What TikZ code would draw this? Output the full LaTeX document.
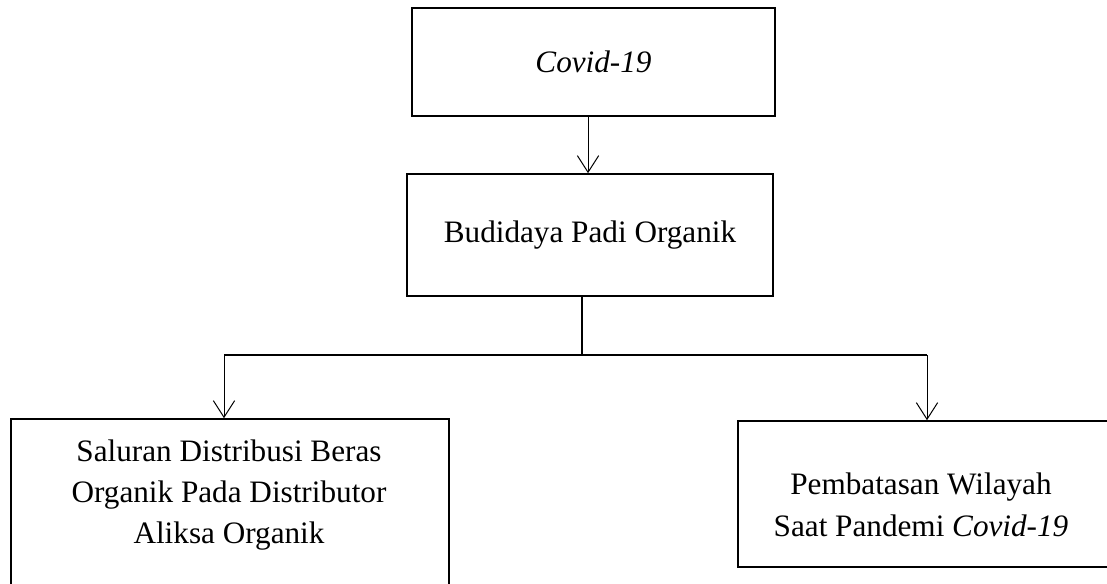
\documentclass[tikz,border=0pt]{standalone}
\usepackage{fontspec}
\setmainfont{Liberation Serif}
\usetikzlibrary{arrows.meta}
\begin{document}
\begin{tikzpicture}[x=0.75pt,y=-0.75pt,
  box/.style={draw,line width=1.2pt,inner sep=0pt,align=center,font=\fontsize{23.4}{31.1}\selectfont},
  lbl/.style={inner sep=0pt,align=center,font=\fontsize{23.4}{31.1}\selectfont},
  conn/.style={line width=1pt},
  arr/.style={line width=0.75pt,-{Straight Barb[length=12.5pt,width=16pt,line width=0.75pt]}}]
\useasboundingbox (0,0) rectangle (1107,583);
\clip (0,0) rectangle (1107,583);
% boxes
\node[box,minimum width=272.25pt,minimum height=81pt] (top) at (593.5,62) {\textit{Covid-19}};
\node[box,minimum width=274.5pt,minimum height=91.5pt] (mid) at (590,235) {Budidaya Padi Organik};
\node[box,minimum width=328.5pt,minimum height=135.75pt] (left) at (230,509.5) {};
\node[box,minimum width=279pt,minimum height=109.5pt] (right) at (924,494) {};
% texts
\node[lbl] (lefttxt) at (229,495) {Saluran Distribusi Beras\\Organik Pada Distributor\\Aliksa Organik};
\node[lbl] (righttxt) at (921,505) {Pembatasan Wilayah\\Saat Pandemi \textit{Covid-19}};
% connectors
\draw[arr] ([xshift=-4.1pt]top.south) -- ([xshift=-4.1pt]top.south |- mid.north);
\coordinate (j) at (582,355);
\coordinate (jl) at (224,355);
\coordinate (jr) at (927,355);
\draw[conn] ([xshift=-6pt]mid.south) -- (j);
\draw[conn] (jl) -- (jr);
\draw[arr] (jl) -- (jl |- left.north);
\draw[arr] (jr) -- (jr |- right.north);
\end{tikzpicture}
\end{document}
